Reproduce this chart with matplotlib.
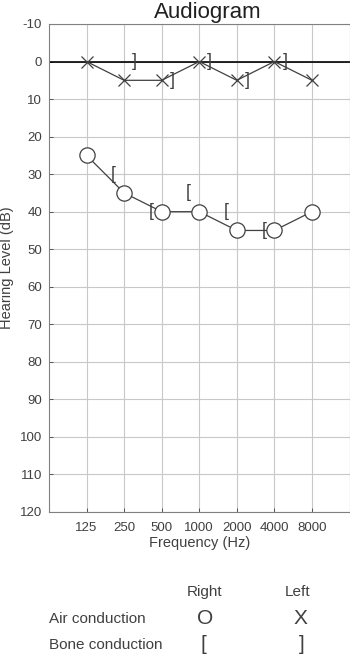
import matplotlib.pyplot as plt

plt.rcParams['font.family'] = ['Liberation Sans', 'DejaVu Sans']
plt.rcParams['axes.unicode_minus'] = False

freqs = ["125", "250", "500", "1000", "2000", "4000", "8000"]
right_air = [25, 35, 40, 40, 45, 45, 40]
left_air = [0, 5, 5, 0, 5, 0, 5]
right_bone_freqs = ["250", "500", "1000", "2000", "4000"]
right_bone = [30, 40, 35, 40, 45]
left_bone_freqs = ["250", "500", "1000", "2000", "4000"]
left_bone = [0, 5, 0, 5, 0]

grey = "#404040"
pos = {f: i + 1 for i, f in enumerate(freqs)}
xs = [pos[f] for f in freqs]

fig = plt.figure(figsize=(3.5, 6.56), dpi=100)
ax = fig.add_axes([49 / 350, 1 - 512 / 656, 300.5 / 350, 488 / 656])

ax.set_xlim(0, 8)
ax.set_ylim(120, -10)
ax.set_yticks(range(-10, 121, 10))
ax.set_xticks(xs)
ax.set_xticklabels(freqs)
ax.grid(True, color="#c8c8c8", linewidth=0.8)
ax.set_axisbelow(True)
ax.axhline(0, color="black", linewidth=1.2, zorder=1)

ax.plot(xs, left_air, color=grey, linewidth=0.9, marker="x", markersize=9,
        markeredgewidth=0.9, zorder=3)
ax.plot(xs, right_air, color=grey, linewidth=0.9, marker="o", markersize=11,
        markerfacecolor="white", markeredgecolor=grey, markeredgewidth=0.9, zorder=3)

for f, v in zip(right_bone_freqs, right_bone):
    ax.text(pos[f] - 0.28, v, "[", ha="center", va="center", fontsize=13, color=grey)
for f, v in zip(left_bone_freqs, left_bone):
    ax.text(pos[f] + 0.28, v, "]", ha="center", va="center", fontsize=13, color=grey)

for s in ax.spines.values():
    s.set_color("#808080")
ax.tick_params(colors=grey, labelsize=9.5, length=3, width=0.6, direction="in")
ax.tick_params(axis="x", pad=7)
ax.tick_params(axis="y", pad=5)
ax.set_title("Audiogram", fontsize=16, color="#202020", pad=4, x=0.53)
ax.set_ylabel("Hearing Level (dB)", fontsize=10.5, color=grey, labelpad=4)
ax.set_xlabel("Frequency (Hz)", fontsize=10.5, color=grey, labelpad=2)

lt = dict(fontsize=11, color=grey, va="center")
fig.text(205 / 350, 1 - 592 / 656, "Right", ha="center", **lt)
fig.text(298 / 350, 1 - 592 / 656, "Left", ha="center", **lt)
fig.text(49 / 350, 1 - 619 / 656, "Air conduction", ha="left", **lt)
fig.text(49 / 350, 1 - 645 / 656, "Bone conduction", ha="left", **lt)
fig.text(205 / 350, 1 - 619 / 656, "O", ha="center", fontsize=15, color=grey, va="center")
fig.text(300 / 350, 1 - 619 / 656, "X", ha="center", fontsize=15, color=grey, va="center")
fig.text(203 / 350, 1 - 645 / 656, "[", ha="center", fontsize=15, color=grey, va="center")
fig.text(302 / 350, 1 - 645 / 656, "]", ha="center", fontsize=15, color=grey, va="center")

fig.savefig("out.png", dpi=100)
